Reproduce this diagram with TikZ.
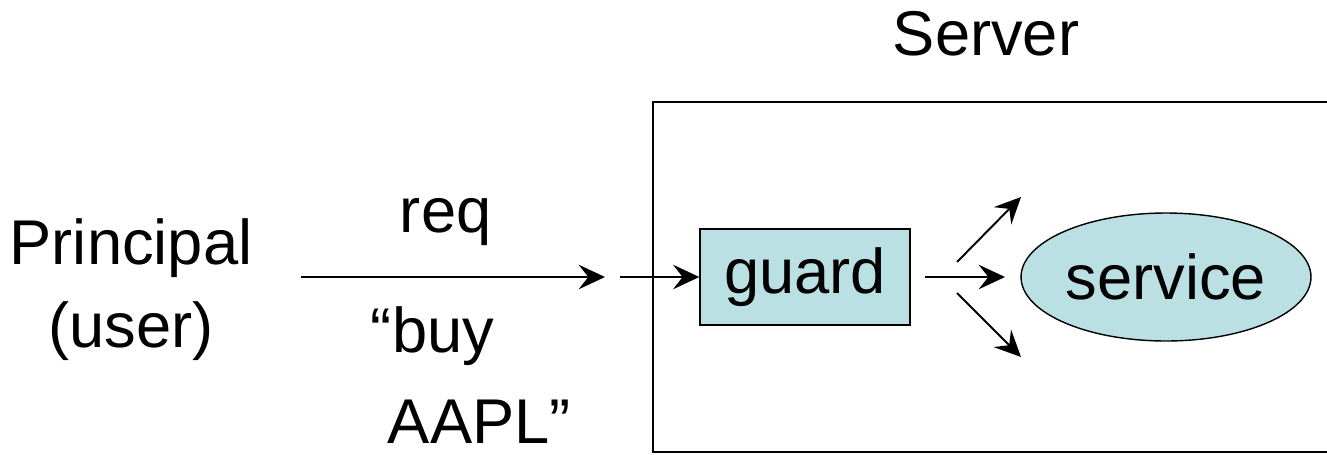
\documentclass[tikz,border=0pt]{standalone}
\usepackage{fontspec}
\setmainfont{Liberation Sans}
\usetikzlibrary{arrows.meta,shapes.geometric}
\definecolor{boxblue}{RGB}{187,224,227}
\begin{document}
\begin{tikzpicture}[x=0.02cm,y=-0.02cm,line width=1.1pt,
    every node/.style={font=\fontsize{36}{47}\selectfont,inner sep=0pt},
    arr/.style={-{Stealth[length=15pt,width=14pt,inset=5.5pt]}},
    boxed/.style={draw,fill=boxblue,line width=0.8pt}]
  \useasboundingbox (0,0) rectangle (1327,454);
  % server frame runs off the right edge
  \draw (653,102) rectangle (1345,452);
  \node[anchor=base] (S) at (986,55) {Server};
  \node[anchor=base,align=center] (P) at (131,347) {Principal\\(user)};
  \node[anchor=base west] (R) at (399,232) {req};
  \node[anchor=base west] (B) at (370,352) {“buy};
  \node[anchor=base west] (L) at (387,443) {AAPL”};
  \node[boxed,minimum width=4.2cm,minimum height=1.92cm] (G) at (805,277) {guard};
  \node[boxed,ellipse,minimum width=5.8cm,minimum height=2.56cm] (V) at (1166,277) {service};
  \coordinate (r0) at (301,277);
  \coordinate (r1) at (605,277);
  \coordinate (g0) at (620,277);
  \coordinate (m0) at (925,277);
  \coordinate (m1) at (1005,277);
  \coordinate (u0) at (957,262);
  \coordinate (u1) at (1021,197);
  \coordinate (d0) at (957,293);
  \coordinate (d1) at (1021,357);
  \draw[arr] (r0) -- (r1);
  \draw[arr] (g0) -- (G.west);
  \draw[arr] (m0) -- (m1);
  \draw[arr] (u0) -- (u1);
  \draw[arr] (d0) -- (d1);
\end{tikzpicture}
\end{document}
